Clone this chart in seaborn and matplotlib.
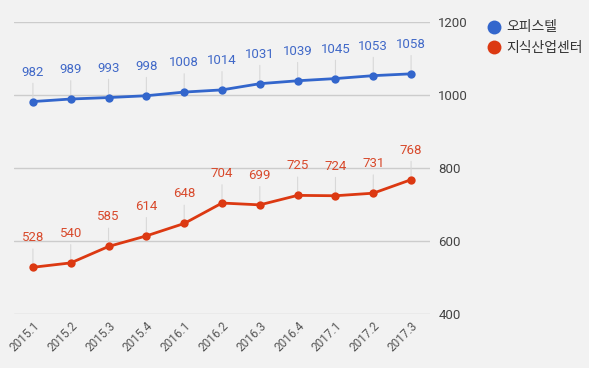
import matplotlib
matplotlib.use("Agg")
import matplotlib.pyplot as plt
import seaborn as sns
import pandas as pd
from matplotlib.lines import Line2D

quarters = ["2015.1", "2015.2", "2015.3", "2015.4", "2016.1", "2016.2",
            "2016.3", "2016.4", "2017.1", "2017.2", "2017.3"]
officetel = [982, 989, 993, 998, 1008, 1014, 1031, 1039, 1045, 1053, 1058]
knowledge = [528, 540, 585, 614, 648, 704, 699, 725, 724, 731, 768]
series_names = ["오피스텔", "지식산업센터"]
yticks = [400, 600, 800, 1000, 1200]

BLUE = "#3366cc"
RED = "#dc3912"
BG = "#f2f2f2"

sns.set_theme(style="white")
plt.rcParams['font.family'] = ['Roboto', 'Noto Sans CJK KR', 'DejaVu Sans']

df = pd.DataFrame({
    "quarter": quarters * 2,
    "x": list(range(len(quarters))) * 2,
    "value": officetel + knowledge,
    "series": [series_names[0]] * len(quarters) + [series_names[1]] * len(quarters),
})

fig = plt.figure(figsize=(5.89, 3.68), dpi=100, facecolor=BG)
ax = fig.add_axes([14 / 589, 54 / 368, (430 - 14) / 589, (314 - 22) / 368])
ax.set_facecolor(BG)

sns.lineplot(data=df, x="x", y="value", hue="series",
             palette=[BLUE, RED], marker="o", markersize=6,
             markeredgewidth=0, linewidth=2, ax=ax, legend=False, zorder=3)

ax.set_xlim(-0.5, len(quarters) - 0.5)
ax.set_ylim(400, 1200)
ax.set_yticks(yticks)
ax.yaxis.tick_right()
ax.set_yticklabels([str(t) for t in yticks], fontsize=9.5, color="#444444")
ax.tick_params(axis="y", length=0, pad=6)
ax.set_xticks(range(len(quarters)))
ax.set_xticklabels(quarters, rotation=45, ha="right", rotation_mode="anchor",
                   fontsize=8.5, color="#555555")
ax.tick_params(axis="x", length=0, pad=4)
ax.grid(axis="y", color="#cccccc", linewidth=1)
ax.set_xlabel("")
ax.set_ylabel("")
for s in ax.spines.values():
    s.set_visible(False)

for vals, col in [(officetel, "#4169c8"), (knowledge, "#d84a2c")]:
    for i, v in enumerate(vals):
        ax.annotate(str(v), xy=(i, v), xytext=(0, 23), textcoords="offset pixels",
                    ha="center", va="bottom", fontsize=9.5, color=col,
                    arrowprops=dict(arrowstyle="-", color="#d8d8d8", lw=0.8,
                                    shrinkA=1, shrinkB=3), zorder=2)

handles = [Line2D([], [], marker="o", linestyle="", markersize=10,
                  markerfacecolor=c, markeredgewidth=0) for c in [BLUE, RED]]
fig.legend(handles, series_names, loc="upper left", bbox_to_anchor=(473 / 589, 1 - 8 / 368),
           frameon=False, fontsize=10, handletextpad=0.3, labelspacing=0.45,
           handlelength=1.2, labelcolor="#333333")

fig.savefig("out.png", dpi=100, facecolor=BG)
